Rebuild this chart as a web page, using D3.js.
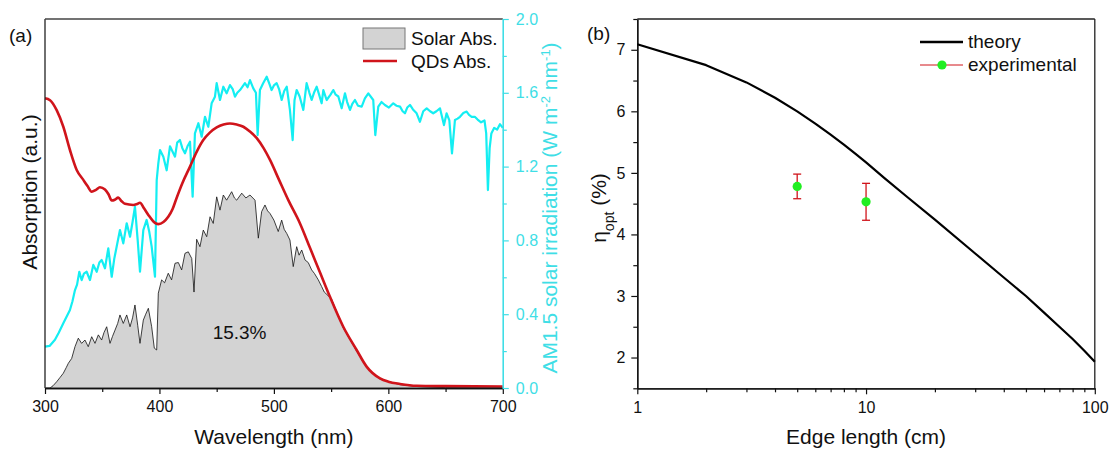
<!DOCTYPE html>
<html>
<head>
<meta charset="utf-8">
<script src="https://cdn.jsdelivr.net/npm/d3@7"></script>
<style>
  body { margin: 0; background: #fff; }
  svg { display: block; font-family: "Liberation Sans", Arial, sans-serif; }
</style>
</head>
<body>
<svg id="chart" width="1111" height="450"></svg>
<script>
// ---------- Panel (a): spectra ----------
// AM1.5 solar irradiance (W m^-2 nm^-1)
const irrWl = [300,304,308.7,312,316,321.8,324,326.2,328,330,332,334,336.4,339.3,342.2,345.2,347.5,349.5,352.4,355.3,358.3,360.5,362.6,365.5,368.4,371.4,374.3,376.5,378.6,381,383,385.9,388.8,391,393.2,396.1,397.6,399,400.5,403.4,406.3,409.2,411.5,413.6,415.5,417.9,420,422.3,424.5,426.7,429,431,434,436.9,439.8,442.7,445.6,448.5,450,452.9,455.8,458.7,461.6,464,466,468,470.4,474.7,477,479.1,482,484.3,485.8,487.8,490.5,493.7,496,498,500,502.4,504.5,506.8,509,511.2,514,516.4,518,519.9,522.5,525.7,528.6,531,533,535,537.4,539.5,541.7,543.2,546.1,549.5,551.9,554,556.3,559.2,562.1,564,566.5,568.5,570.8,573.5,576.7,579.5,582.5,586.8,588.6,591.2,594,597,600.5,604.3,607,610.2,612.5,614.5,616.5,618.9,621.5,624.7,627.6,630.5,633.5,636.5,639.2,642,645.1,648.6,650.9,653.3,655.6,658.2,660.5,662.6,665.5,668.4,670.5,672.8,675.5,678,681,684,685.5,687,688.5,690,692.5,695,697.5,700];
const irrVal = [0.224,0.228,0.262,0.300,0.351,0.423,0.47,0.531,0.56,0.630,0.585,0.62,0.630,0.585,0.667,0.630,0.68,0.694,0.649,0.757,0.603,0.70,0.766,0.856,0.784,0.893,0.820,0.90,0.983,0.80,0.630,0.856,0.911,0.85,0.766,0.603,1.127,1.218,1.29,1.254,1.18,1.31,1.28,1.254,1.33,1.344,1.30,1.272,1.31,1.335,1.037,1.38,1.435,1.362,1.47,1.416,1.543,1.579,1.652,1.561,1.633,1.597,1.642,1.62,1.579,1.60,1.615,1.652,1.63,1.669,1.624,1.60,1.371,1.615,1.65,1.687,1.65,1.615,1.64,1.652,1.62,1.561,1.61,1.633,1.507,1.344,1.56,1.615,1.58,1.507,1.652,1.60,1.561,1.60,1.633,1.59,1.543,1.615,1.561,1.59,1.615,1.59,1.58,1.516,1.597,1.55,1.507,1.54,1.561,1.53,1.525,1.57,1.597,1.561,1.371,1.525,1.55,1.534,1.52,1.543,1.53,1.525,1.50,1.489,1.52,1.534,1.51,1.489,1.443,1.50,1.516,1.50,1.489,1.50,1.516,1.425,1.489,1.45,1.272,1.453,1.46,1.47,1.49,1.498,1.48,1.47,1.47,1.455,1.44,1.45,1.38,1.073,1.30,1.38,1.41,1.40,1.43,1.41];

// QD absorption (a.u.)
const qdWl  = [300,304.4,310.2,316,321.8,327.7,333.5,337,340.8,344.5,348,352.4,355.5,358.3,361,364,367,369.9,377.1,380,383,386.5,390.3,394.5,399,403.5,407.7,411.5,415,420,426.7,432.5,438.3,444,450,456,461.6,467.5,473.3,479,485,491,496.6,504.5,512.6,522.8,531.5,540.3,549,560.6,572.3,581,592.7,600,610.2,624.7,650,700];
const qdAbs = [0.785,0.780,0.753,0.708,0.645,0.591,0.564,0.548,0.532,0.537,0.544,0.538,0.525,0.508,0.510,0.516,0.506,0.499,0.496,0.498,0.502,0.487,0.469,0.452,0.444,0.450,0.464,0.485,0.515,0.555,0.600,0.640,0.672,0.692,0.706,0.714,0.717,0.714,0.708,0.695,0.677,0.650,0.618,0.564,0.509,0.446,0.380,0.313,0.247,0.166,0.103,0.058,0.026,0.017,0.011,0.006,0.005,0.004];

// Absorbed solar spectrum (a.u.)
const harvWl  = [300,304.4,307,310.2,313,316,318.5,320.4,323.3,326.2,329.1,332,334.9,337.8,340.8,343.7,346.6,349.5,351.5,353.9,356.8,359,361.2,363.5,365.5,368.4,371.4,374.3,376.5,378.6,381,383,385.9,388,390.3,393.2,395.5,397.6,399,401.9,404.5,407.7,410.6,413.6,416.5,419.4,422.3,425.2,428.2,430.2,432.5,435.4,438.3,441.3,444.2,447,450,452.9,455.8,458.7,463.1,465.5,467.5,471.9,475.5,479.1,483.5,486.4,489.3,492.2,494.5,496.6,500,503.8,506.8,509,511.2,514,516.9,519.9,522,524.3,527.2,530,533,535.5,538.8,541.7,544,547.5,550.5,560.6,572.3,581,592.7,610.2,624.7,650,700];
const harvAbs = [0,0,0.006,0.017,0.028,0.040,0.055,0.067,0.080,0.112,0.135,0.121,0.130,0.112,0.139,0.121,0.144,0.130,0.15,0.166,0.121,0.14,0.157,0.175,0.198,0.175,0.198,0.166,0.19,0.225,0.17,0.121,0.184,0.20,0.216,0.166,0.108,0.103,0.257,0.293,0.285,0.311,0.293,0.338,0.34,0.320,0.365,0.369,0.351,0.26,0.403,0.383,0.428,0.410,0.464,0.446,0.518,0.482,0.523,0.509,0.532,0.515,0.509,0.528,0.515,0.523,0.509,0.406,0.478,0.496,0.48,0.473,0.455,0.424,0.455,0.43,0.419,0.401,0.329,0.383,0.36,0.374,0.347,0.34,0.320,0.31,0.293,0.275,0.26,0.25,0.24,0.163,0.1,0.056,0.024,0.009,0.004,0.001,0];

const wlTicks = [300,400,500,600,700];
const wlMinor = [350,450,550,650];
const irrTicks = [0,0.4,0.8,1.2,1.6,2.0];
const irrMinor = [0.2,0.6,1.0,1.4,1.8];

// ---------- Panel (b): optical efficiency vs edge length ----------
const theoryEdge = [1,2,3,4,5,6,7,8,9,10,12,15,20,30,40,50,60,70,80,90,100];
const theoryEta  = [7.09,6.75,6.47,6.22,6.00,5.80,5.62,5.46,5.31,5.17,4.92,4.62,4.24,3.69,3.30,3.00,2.73,2.50,2.30,2.11,1.93];
const expEdge = [5,10];
const expEta  = [4.78,4.53];
const expErr  = [0.2,0.3];

const edgeTicks = [1,10,100];
const edgeMinor = [2,3,4,5,6,7,8,9,20,30,40,50,60,70,80,90];
const etaTicks = [2,3,4,5,6,7];
const etaMinor = [1.5,2.5,3.5,4.5,5.5,6.5,7.5];

// ---------- drawing ----------
const svg = d3.select("#chart");
const CYAN = "#14eef2", CYAN_TXT = "#3fdee6", RED = "#d0141b", GREEN = "#22ee22";
const TITLE = 21, TICK = 16, LEG = 19;

const xA = d3.scaleLinear().domain([300,700]).range([45,502.8]);
const yAbs = d3.scaleLinear().domain([0,1]).range([388,19]);
const yIrr = d3.scaleLinear().domain([0,2]).range([388,19]);

const xB = d3.scaleLog().domain([1,100]).range([637.3,1094.8]);
const yB = d3.scaleLinear().domain([1.5,7.5]).range([388.3,19]);

function styleAxis(g, color, size) {
  g.select(".domain").attr("stroke", color).attr("stroke-width", 1.3);
  g.selectAll(".tick line").attr("stroke", color).attr("stroke-width", 1.2);
  g.selectAll(".tick text").attr("fill", color).attr("font-size", size)
    .attr("font-family", '"Liberation Sans", Arial, sans-serif');
}

// absorbed solar area
const harv = harvWl.map((w,i)=>[w, harvAbs[i]]);
svg.append("path").datum(harv)
  .attr("d", d3.area().x(d=>xA(d[0])).y0(yAbs(0)).y1(d=>yAbs(d[1])))
  .attr("fill", "#d3d3d3");
svg.append("path").datum(harv)
  .attr("d", d3.line().x(d=>xA(d[0])).y(d=>yAbs(d[1])))
  .attr("fill", "none").attr("stroke", "#111").attr("stroke-width", 0.8);

// AM1.5 spectrum
svg.append("path").datum(irrWl.map((w,i)=>[w, irrVal[i]]))
  .attr("d", d3.line().x(d=>xA(d[0])).y(d=>yIrr(d[1])))
  .attr("fill", "none").attr("stroke", CYAN).attr("stroke-width", 2.2)
  .attr("stroke-linejoin", "round");

// QD absorption
svg.append("path").datum(qdWl.map((w,i)=>[w, qdAbs[i]]))
  .attr("d", d3.line().curve(d3.curveMonotoneX).x(d=>xA(d[0])).y(d=>yAbs(d[1])))
  .attr("fill", "none").attr("stroke", RED).attr("stroke-width", 2.6);

// frame of panel (a)
svg.append("line").attr("x1", 45).attr("x2", 45).attr("y1", 19).attr("y2", 388)
  .attr("stroke", "#222").attr("stroke-width", 1.3);
svg.append("line").attr("x1", 45).attr("x2", 502.8).attr("y1", 19).attr("y2", 19)
  .attr("stroke", "#444").attr("stroke-width", 1.3);

// bottom axis (a)
const gxA = svg.append("g").attr("transform", "translate(0,388)")
  .call(d3.axisBottom(xA).tickValues(wlTicks).tickFormat(d3.format("d")).tickSize(6).tickSizeOuter(0).tickPadding(7));
styleAxis(gxA, "#111", TICK);
const gxAm = svg.append("g").attr("transform", "translate(0,388)")
  .call(d3.axisBottom(xA).tickValues(wlMinor).tickFormat("").tickSize(4).tickSizeOuter(0));
styleAxis(gxAm, "#111", TICK);

// right cyan axis (a)
const gyI = svg.append("g").attr("transform", "translate(502.8,0)")
  .call(d3.axisRight(yIrr).tickValues(irrTicks).tickFormat(d3.format(".1f")).tickSize(6).tickSizeOuter(0).tickPadding(7));
styleAxis(gyI, CYAN_TXT, TICK);
const gyIm = svg.append("g").attr("transform", "translate(502.8,0)")
  .call(d3.axisRight(yIrr).tickValues(irrMinor).tickFormat("").tickSize(4).tickSizeOuter(0));
styleAxis(gyIm, CYAN_TXT, TICK);

// texts (a)
svg.append("text").attr("x", 9).attr("y", 42).attr("font-size", LEG).attr("fill", "#111").text("(a)");
svg.append("text").attr("transform", "translate(37,192) rotate(-90)")
  .attr("text-anchor", "middle").attr("font-size", TITLE).attr("fill", "#111").text("Absorption (a.u.)");
svg.append("text").attr("x", xA(500)).attr("y", 444).attr("text-anchor", "middle")
  .attr("font-size", TITLE).attr("fill", "#111").text("Wavelength (nm)");
svg.append("text").attr("x", xA(470)).attr("y", 339).attr("text-anchor", "middle")
  .attr("font-size", LEG).attr("fill", "#111").text("15.3%");

const irrLabel = svg.append("text").attr("transform", "translate(557,208) rotate(-90)")
  .attr("text-anchor", "middle").attr("font-size", TITLE).attr("fill", CYAN_TXT);
irrLabel.append("tspan").text("AM1.5 solar irradiation (W m");
irrLabel.append("tspan").attr("baseline-shift", "super").attr("font-size", 13).text("-2");
irrLabel.append("tspan").text(" nm");
irrLabel.append("tspan").attr("baseline-shift", "super").attr("font-size", 13).text("-1");
irrLabel.append("tspan").text(")");

// legend (a)
svg.append("rect").attr("x", 363).attr("y", 28).attr("width", 42).attr("height", 21)
  .attr("fill", "#d3d3d3").attr("stroke", "#777").attr("stroke-width", 1);
svg.append("text").attr("x", 411).attr("y", 45).attr("font-size", LEG).attr("fill", "#111").text("Solar Abs.");
svg.append("line").attr("x1", 363).attr("x2", 397).attr("y1", 61).attr("y2", 61)
  .attr("stroke", RED).attr("stroke-width", 2.6);
svg.append("text").attr("x", 411).attr("y", 68).attr("font-size", LEG).attr("fill", "#111").text("QDs Abs.");

// ---------- panel (b) ----------
svg.append("line").attr("x1", 637.3).attr("x2", 1094.8).attr("y1", 19).attr("y2", 19)
  .attr("stroke", "#222").attr("stroke-width", 1.3);
svg.append("line").attr("x1", 1094.8).attr("x2", 1094.8).attr("y1", 19).attr("y2", 388.3)
  .attr("stroke", "#222").attr("stroke-width", 1.3);

const gxB = svg.append("g").attr("transform", "translate(0,388.3)")
  .call(d3.axisBottom(xB).tickValues(edgeTicks).tickFormat(d3.format("d")).tickSize(6).tickSizeOuter(0).tickPadding(7));
styleAxis(gxB, "#111", TICK);
const gxBm = svg.append("g").attr("transform", "translate(0,388.3)")
  .call(d3.axisBottom(xB).tickValues(edgeMinor).tickFormat("").tickSize(4).tickSizeOuter(0));
styleAxis(gxBm, "#111", TICK);

const gyB = svg.append("g").attr("transform", "translate(637.3,0)")
  .call(d3.axisLeft(yB).tickValues(etaTicks).tickFormat(d3.format("d")).tickSize(6).tickSizeOuter(0).tickPadding(6));
styleAxis(gyB, "#111", TICK);
const gyBm = svg.append("g").attr("transform", "translate(637.3,0)")
  .call(d3.axisLeft(yB).tickValues(etaMinor).tickFormat("").tickSize(4).tickSizeOuter(0));
styleAxis(gyBm, "#111", TICK);

// theory curve
svg.append("path").datum(theoryEdge.map((e,i)=>[e, theoryEta[i]]))
  .attr("d", d3.line().x(d=>xB(d[0])).y(d=>yB(d[1])))
  .attr("fill", "none").attr("stroke", "#000").attr("stroke-width", 2.2)
  .attr("stroke-linejoin", "round");

// experimental points with error bars
const exp = expEdge.map((e,i)=>({e, v: expEta[i], err: expErr[i]}));
const eg = svg.append("g");
eg.selectAll("line.bar").data(exp).join("line").attr("class", "bar")
  .attr("x1", d=>xB(d.e)).attr("x2", d=>xB(d.e))
  .attr("y1", d=>yB(d.v - d.err)).attr("y2", d=>yB(d.v + d.err))
  .attr("stroke", RED).attr("stroke-width", 1.3);
eg.selectAll("line.capT").data(exp).join("line").attr("class", "capT")
  .attr("x1", d=>xB(d.e)-4).attr("x2", d=>xB(d.e)+4)
  .attr("y1", d=>yB(d.v + d.err)).attr("y2", d=>yB(d.v + d.err))
  .attr("stroke", RED).attr("stroke-width", 1.3);
eg.selectAll("line.capB").data(exp).join("line").attr("class", "capB")
  .attr("x1", d=>xB(d.e)-4).attr("x2", d=>xB(d.e)+4)
  .attr("y1", d=>yB(d.v - d.err)).attr("y2", d=>yB(d.v - d.err))
  .attr("stroke", RED).attr("stroke-width", 1.3);
eg.selectAll("circle").data(exp).join("circle")
  .attr("cx", d=>xB(d.e)).attr("cy", d=>yB(d.v)).attr("r", 4.6).attr("fill", GREEN);

// texts (b)
svg.append("text").attr("x", 587).attr("y", 40).attr("font-size", LEG).attr("fill", "#111").text("(b)");
svg.append("text").attr("x", xB(10)).attr("y", 444).attr("text-anchor", "middle")
  .attr("font-size", TITLE).attr("fill", "#111").text("Edge length (cm)");
const etaLabel = svg.append("text").attr("transform", "translate(606,208) rotate(-90)")
  .attr("text-anchor", "middle").attr("font-size", TITLE).attr("fill", "#111");
etaLabel.append("tspan").text("η");
etaLabel.append("tspan").attr("baseline-shift", "sub").attr("font-size", 14).text("opt");
etaLabel.append("tspan").text(" (%)");

// legend (b)
svg.append("line").attr("x1", 920).attr("x2", 963).attr("y1", 42).attr("y2", 42)
  .attr("stroke", "#000").attr("stroke-width", 2.4);
svg.append("text").attr("x", 968).attr("y", 48).attr("font-size", LEG).attr("fill", "#111").text("theory");
svg.append("line").attr("x1", 920).attr("x2", 963).attr("y1", 65).attr("y2", 65)
  .attr("stroke", RED).attr("stroke-width", 1);
svg.append("circle").attr("cx", 942).attr("cy", 65).attr("r", 4.6).attr("fill", GREEN);
svg.append("text").attr("x", 968).attr("y", 71).attr("font-size", LEG).attr("fill", "#111").text("experimental");
</script>
</body>
</html>
